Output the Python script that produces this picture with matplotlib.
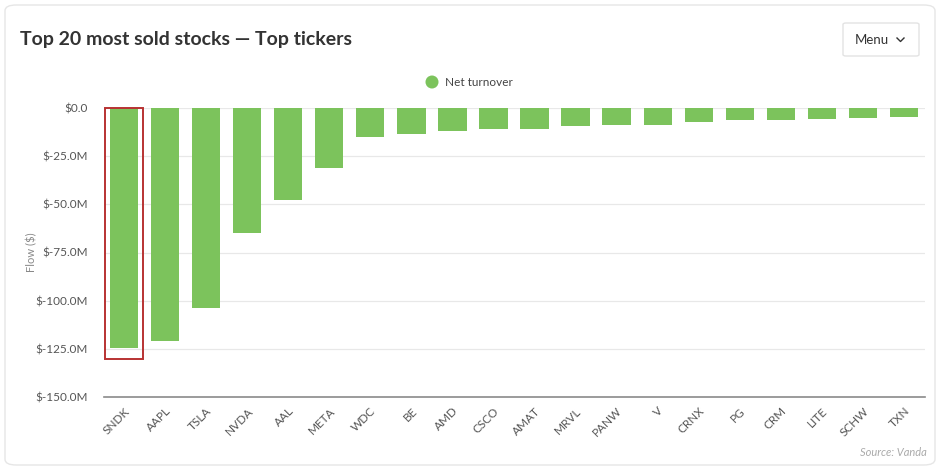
import matplotlib
matplotlib.use("Agg")
import matplotlib.pyplot as plt
from matplotlib.patches import FancyBboxPatch, Rectangle, Ellipse
from matplotlib.lines import Line2D
from matplotlib.ticker import FuncFormatter

tickers = ["SNDK", "AAPL", "TSLA", "NVDA", "AAL", "META", "WDC", "BE", "AMD", "CSCO",
           "AMAT", "MRVL", "PANW", "V", "CRNX", "PG", "CRM", "LITE", "SCHW", "TXN"]
net_turnover_m = [-124.5, -121.0, -104.0, -65.0, -47.5, -31.0, -15.0, -13.5, -12.0, -11.0,
                  -11.0, -9.5, -9.0, -9.0, -7.5, -6.3, -6.0, -5.5, -5.0, -4.5]
y_ticks = [0, -25, -50, -75, -100, -125, -150]
highlight_ticker = "SNDK"
highlight_depth = -130.5

plt.rcParams['font.family'] = ['Lato', 'DejaVu Sans']

W, H = 940, 472
fig = plt.figure(figsize=(W / 100, H / 100), dpi=100)
fig.patch.set_facecolor("white")

def fx(px):
    return px / W

def fy(py):
    return 1 - py / H

# card
card = FancyBboxPatch((fx(5), fy(465)), fx(930), (460) / H,
                      boxstyle="round,pad=0,rounding_size=0.012",
                      transform=fig.transFigure, facecolor="none",
                      edgecolor="#e6e6e6", linewidth=1.0, zorder=-10)
fig.patches.append(card)

# title
fig.text(fx(20), fy(40), "Top 20 most sold stocks \u2014 Top tickers", fontsize=14,
         fontweight="bold", color="#333333", ha="left", va="center")

# menu button
menu = FancyBboxPatch((fx(843), fy(56)), fx(76), 33 / H,
                      boxstyle="round,pad=0,rounding_size=0.003",
                      transform=fig.transFigure, facecolor="none",
                      edgecolor="#e3e3e3", linewidth=1.0, zorder=-10)
fig.patches.append(menu)
fig.text(fx(855), fy(40), "Menu", fontsize=9.5, color="#333333", ha="left", va="center")
fig.lines.append(Line2D([fx(897), fx(900.5), fx(904)], [fy(38), fy(41.5), fy(38)],
                        transform=fig.transFigure, color="#333333", linewidth=1.0))

# legend
fig.patches.append(Ellipse((fx(432), fy(82)), 13 / W, 13 / H,
                           transform=fig.transFigure,
                           facecolor="#7cc35c", edgecolor="none"))
fig.text(fx(445), fy(82), "Net turnover", fontsize=8.5, color="#444444",
         ha="left", va="center")

# axes
left, right, top, bottom = 103.5, 924.5, 108, 397
ax = fig.add_axes([fx(left), fy(bottom), fx(right - left), (bottom - top) / H])
ax.set_zorder(5)
ax.set_facecolor("none")
x = list(range(len(tickers)))
ax.bar(x, net_turnover_m, width=0.69, color="#7cc35c", zorder=2)
ax.set_xlim(-0.5, len(tickers) - 0.5)
ax.set_ylim(-150, 0)
ax.set_yticks(y_ticks)
ax.yaxis.set_major_formatter(FuncFormatter(lambda v, p: "$0.0" if v == 0 else f"$-{abs(v):.1f}M"))
ax.grid(axis="y", color="#e8e8e8", linewidth=0.9, zorder=0)
ax.set_axisbelow(True)
for s in ["top", "right", "left"]:
    ax.spines[s].set_visible(False)
ax.spines["bottom"].set_color("#8a8a8a")
ax.spines["bottom"].set_linewidth(1.2)
ax.tick_params(axis="y", length=0, labelsize=8.5, labelcolor="#555555", pad=11)
ax.tick_params(axis="x", length=0, labelsize=8.5, labelcolor="#555555", pad=6)
ax.set_xticks(x)
ax.set_xticklabels(tickers, rotation=45, ha="right", rotation_mode="anchor")
ax.set_ylabel("Flow ($)", fontsize=8, color="#888888")
ax.yaxis.set_label_coords((37 - left) / (right - left), 0.5)

# highlight rectangle
hi = tickers.index(highlight_ticker)
ax.add_patch(Rectangle((hi - 0.465, highlight_depth), 0.93, -highlight_depth,
                       fill=False, edgecolor="#b83232", linewidth=1.4, zorder=3,
                       clip_on=False))

# source
fig.text(fx(927), fy(453), "Source: Vanda", fontsize=8, color="#aaaaaa",
         style="italic", ha="right", va="center")

fig.savefig("out.png", dpi=100, facecolor="white")
